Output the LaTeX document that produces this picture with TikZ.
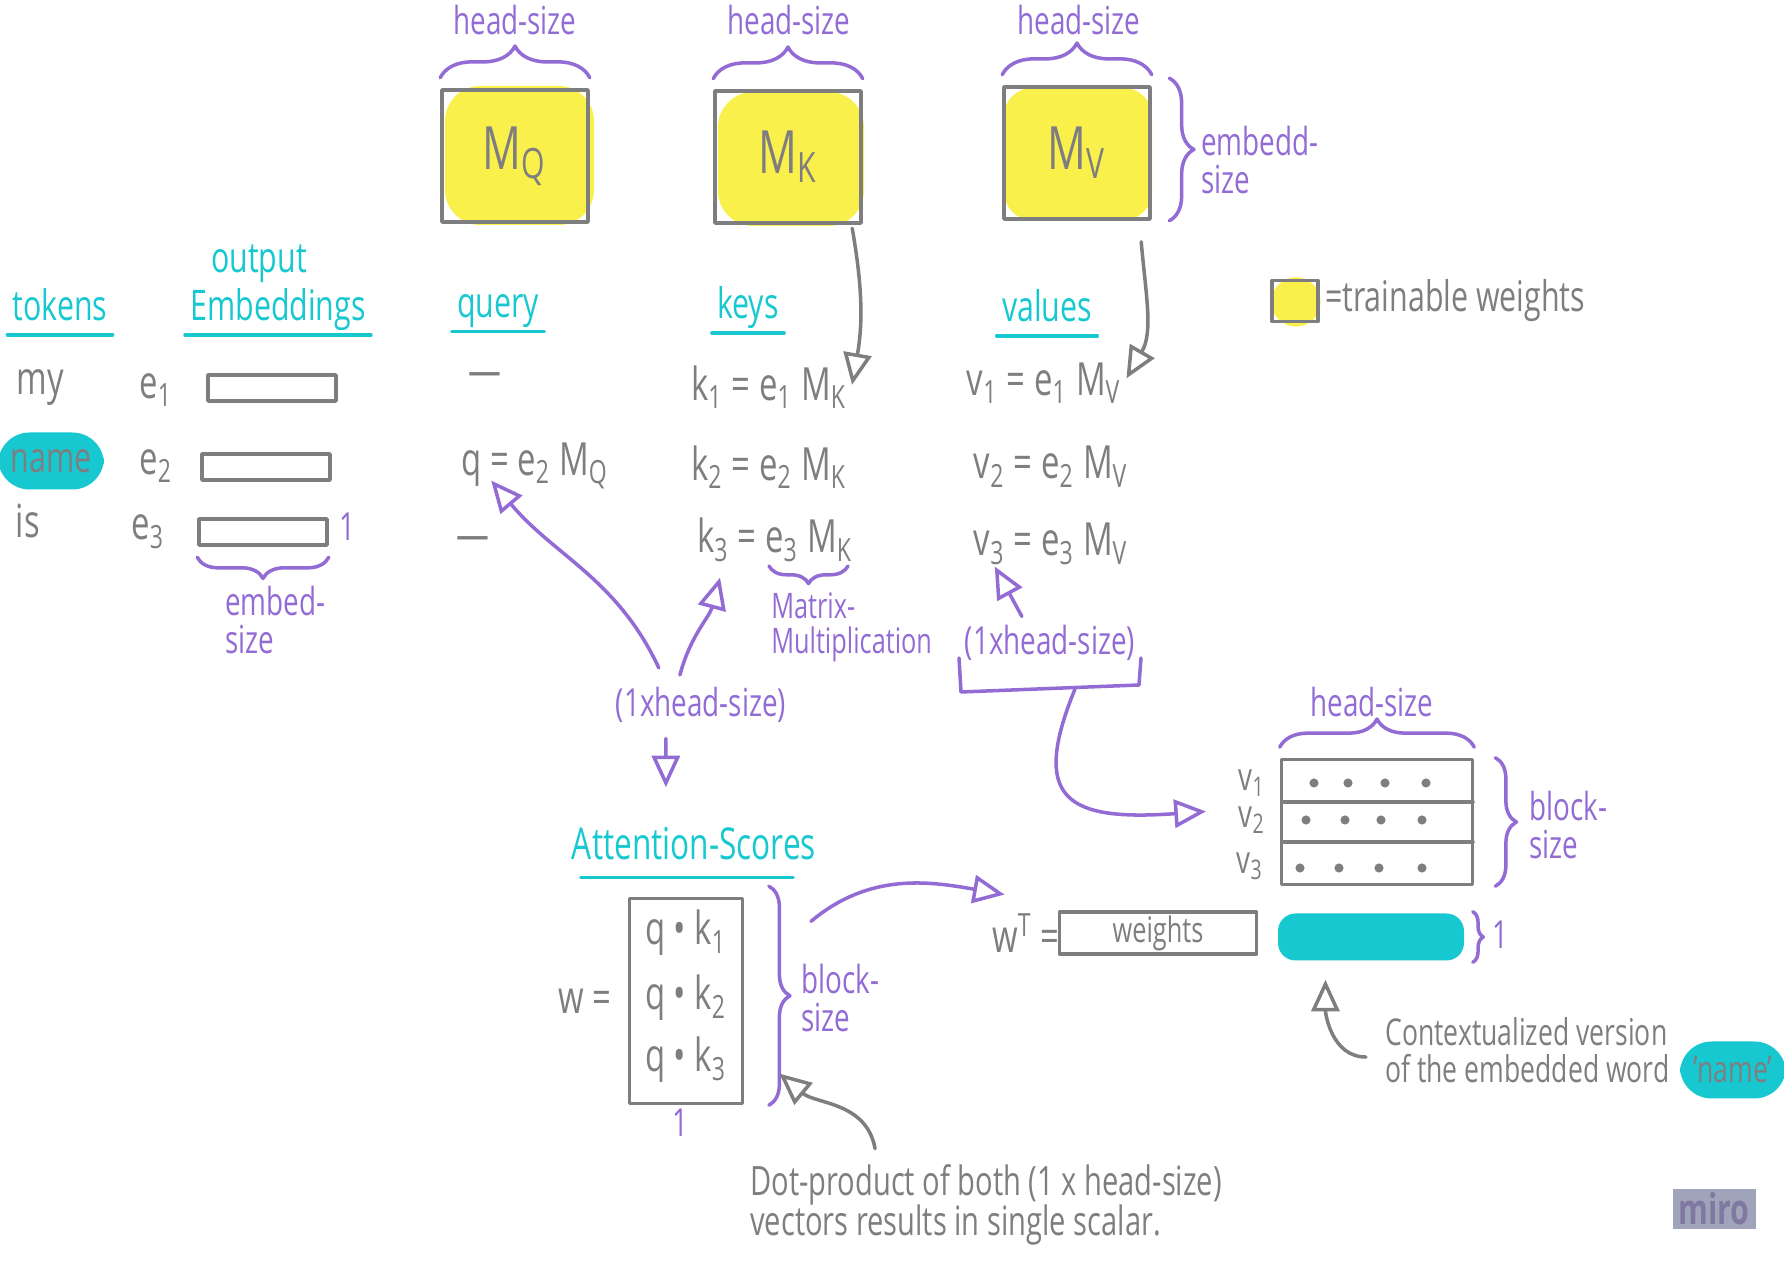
\documentclass[tikz,border=0pt]{standalone}
\usepackage{fontspec}
\setmainfont{Open Sans}[FakeStretch=0.72]
\usetikzlibrary{arrows.meta,decorations.pathreplacing}
\definecolor{inkgray}{RGB}{126,126,128}
\definecolor{inkpurple}{RGB}{146,108,212}
\definecolor{inkcyan}{RGB}{24,200,208}
\definecolor{inkyellow}{RGB}{250,240,76}
\definecolor{mirobg}{RGB}{160,164,186}
\definecolor{mirofg}{RGB}{128,120,160}
\newcommand{\lo}[1]{\textsubscript{#1}}
\newcommand{\fs}[1]{\fontsize{#1}{#1}\selectfont}
\begin{document}
\begin{tikzpicture}[x=0.1mm,y=0.1mm,line width=1pt,line cap=round,line join=round,
        every node/.style={inner sep=1pt},
        gr/.style={text=inkgray,font=\fs{13}},
        pu/.style={text=inkpurple,font=\fs{11},align=left},
        cy/.style={text=inkcyan,font=\fs{12}},
        mat/.style={draw=inkgray,minimum width=1.46cm,minimum height=1.32cm,text=inkgray,font=\fs{17}},
        emb/.style={draw=inkgray,minimum width=1.28cm,minimum height=0.26cm},
        curly/.style={draw=inkpurple,decorate,decoration={brace,amplitude=#1}},
        curly/.default=8pt,
        grarrow/.style={draw=inkgray,-{Triangle[open,length=9pt,width=8pt]}},
        puarrow/.style={draw=inkpurple,-{Triangle[open,length=9pt,width=8pt]}},
        blob/.style={fill=inkcyan,rounded corners=9pt,text=inkgray,minimum width=1.06cm,minimum height=0.57cm,inner sep=0pt}]
    \useasboundingbox (0,0) rectangle (1784,-1261);

    \fill[inkyellow,rounded corners=10pt] (445,-86) rectangle (594,-225);
    \fill[inkyellow,rounded corners=10pt] (718,-92) rectangle (864,-226);
    \fill[inkyellow,rounded corners=8pt] (1004,-88) rectangle (1152,-220);
    \node[mat] (MQ) at (515,-156) {M\lo{Q}};
    \node[mat] (MK) at (788,-157) {M\lo{K}};
    \node[mat] (MV) at (1077,-153) {M\lo{V}};
    \node[pu] (hsQ) at (515,-20) {head-size};
    \node[pu] (hsK) at (789,-20) {head-size};
    \node[pu] (hsV) at (1079,-20) {head-size};
    \draw[curly=9pt] ([yshift=3pt]MQ.north west) -- ([yshift=3pt]MQ.north east);
    \draw[curly=9pt] ([yshift=3pt]MK.north west) -- ([yshift=3pt]MK.north east);
    \draw[curly=9pt] ([yshift=3pt]MV.north west) -- ([yshift=3pt]MV.north east);
    \draw[curly=7pt] ([xshift=5pt,yshift=2pt]MV.north east) -- ([xshift=5pt]MV.south east);
    \node[pu,anchor=west] (edV) at (1196,-160) {embedd-\\size};

    \fill[inkyellow] (1296,-302) circle (7pt);
    \node[draw=inkgray,minimum width=0.46cm,minimum height=0.41cm] (legbox) at (1295,-301) {};
    \node[gr,anchor=west,font=\fs{12}] (legtxt) at (legbox.east) {=trainable weights};

    \node[cy] (tok) at (60,-305) {tokens};
    \node[cy] (outp) at (259,-264) {output};
    \node[cy] (embs) at (278,-310) {Embeddings};
    \node[cy] (qry) at (498,-311) {query};
    \node[cy] (kys) at (748,-308) {keys};
    \node[cy] (vls) at (1047,-306) {values};
    \foreach \n in {tok,embs,qry,kys,vls}
        \draw[inkcyan] ([yshift=-4pt]\n.base west) -- ([yshift=-4pt]\n.base east);

    \node[gr] (my) at (40,-388) {my};
    \node[blob,font=\fs{12}] (name) at (51,-461) {name};
    \node[gr] (is) at (28,-521) {is};
    \node[gr] (e1) at (156,-390) {e\lo{1}};
    \node[gr] (e2) at (156,-466) {e\lo{2}};
    \node[gr] (e3) at (148,-532) {e\lo{3}};
    \node[emb] (emb1) at (272,-388) {};
    \node[emb] (emb2) at (266,-467) {};
    \node[emb] (emb3) at (263,-532) {};
    \node[pu] (one1) at (347,-527) {1};
    \draw[curly=6pt] ([yshift=-3pt]emb3.south east) -- ([yshift=-3pt]emb3.south west);
    \node[pu,anchor=west] (es) at (220,-620) {embed-\\size};

    \node[gr] (qd1) at (485,-380) {—};
    \node[gr] (q) at (535,-466) {q = e\lo{2} M\lo{Q}};
    \node[gr] (qd3) at (473,-544) {—};
    \node[gr] (k1) at (769,-387) {k\lo{1} = e\lo{1} M\lo{K}};
    \node[gr] (k2) at (769,-467) {k\lo{2} = e\lo{2} M\lo{K}};
    \node[gr] (k3) at (775,-540) {k\lo{3} = e\lo{3} M\lo{K}};
    \draw[curly=5pt] (848,-566) -- (769,-566);
    \node[pu,anchor=west,font=\fs{10}] (mm) at (766,-627) {Matrix-\\Multiplication};
    \node[gr] (v1) at (1044,-383) {v\lo{1} = e\lo{1} M\lo{V}};
    \node[gr] (v2) at (1051,-467) {v\lo{2} = e\lo{2} M\lo{V}};
    \node[gr] (v3) at (1051,-544) {v\lo{3} = e\lo{3} M\lo{V}};

    \draw[grarrow] ([xshift=-3pt,yshift=-1pt]MK.south east) to[out=-80,in=80] ([yshift=-7pt]k1.north east);
    \draw[grarrow] ([xshift=-3pt,yshift=-6pt]MV.south east) to[out=-85,in=60] ([yshift=-6pt]v1.north east);

    \node[pu] (hq) at (701,-705) {(1xhead-size)};
    \node[pu] (hv) at (1050,-643) {(1xhead-size)};
    \node[cy,font=\fs{12.5}] (att) at (694,-844) {Attention-Scores};
    \draw[inkcyan] ([xshift=4pt,yshift=-5pt]att.base west) -- ([xshift=-8pt,yshift=-5pt]att.base east);
    \draw[puarrow] ([xshift=-12pt,yshift=4pt]hq.north) to[out=115,in=-50] ([xshift=10pt,yshift=4pt]q.south west);
    \draw[puarrow] ([xshift=-6pt,yshift=2pt]hq.north) to[out=75,in=-105] ([xshift=8pt,yshift=-3pt]k3.south west);
    \draw[puarrow] ([xshift=-10pt,yshift=-3pt]hq.south) -- ([xshift=-8pt,yshift=10pt]att.north);
    \draw[puarrow] ([xshift=-8pt,yshift=1pt]hv.north) -- ([xshift=-16pt,yshift=1pt]v3.south);
    \draw[inkpurple] (959,-658) -- (961,-692) -- (1139,-685) -- (1141,-658);
    \coordinate (brk) at (1075,-689);

    \node[draw=inkgray,minimum width=1.13cm,minimum height=2.05cm] (wmat) at (686,-1001) {};
    \node[gr] (qk1) at (686,-933) {q • k\lo{1}};
    \node[gr] (qk2) at (686,-998) {q • k\lo{2}};
    \node[gr] (qk3) at (686,-1060) {q • k\lo{3}};
    \node[gr] (w) at (585,-1001) {w =};
    \node[pu] (one2) at (680,-1123) {1};
    \draw[curly=6pt] ([xshift=7pt,yshift=3pt]wmat.north east) -- ([xshift=7pt]wmat.south east);
    \node[pu,anchor=west] (bs1) at (796,-998) {block-\\size};
    \node[gr,anchor=west,align=left,font=\fs{11.5}] (dot) at (745,-1205) {Dot-product of both (1 x head-size)\\vectors results in single scalar.};
    \draw[grarrow] ([xshift=37pt,yshift=3pt]dot.north west) to[out=100,in=-40] ([xshift=10pt,yshift=9pt]wmat.south east);

    \node[gr] (wT) at (1026,-933) {w\textsuperscript{T} =};
    \node[draw=inkgray,minimum width=1.97cm,minimum height=0.38cm,text=inkgray,font=\fs{10}] (wts) at (1158,-933) {weights};
    \node[fill=inkcyan,rounded corners=5pt,minimum width=1.86cm,minimum height=0.47cm] (cbar) at (1371,-937) {};
    \draw[curly=3pt] ([xshift=2pt]cbar.north east) -- ([xshift=2pt]cbar.south east);
    \node[pu] (one3) at (1500,-935) {1};
    \draw[puarrow] ([xshift=19pt,yshift=-7pt]wmat.north east) to[out=40,in=170] ([xshift=5pt,yshift=4pt]wT.north west);

    \node[pu] (hsO) at (1372,-702) {head-size};
    \node[draw=inkgray,minimum width=1.91cm,minimum height=1.25cm] (Vmat) at (1377,-822) {};
    \draw[inkgray] (1282,-802) -- (1473,-802) (1282,-842) -- (1473,-842);
    \foreach \x/\y in {1314/783,1348/783,1385/783,1426/783,1306/820,1345/820,1381/820,1422/820,1300/868,1339/868,1379/868,1422/868}
        \fill[inkgray] (\x,-\y) circle (1.3pt);
    \node[gr,font=\fs{11}] (vv1) at (1252,-783) {v\lo{1}};
    \node[gr,font=\fs{11}] (vv2) at (1252,-820) {v\lo{2}};
    \node[gr,font=\fs{11}] (vv3) at (1250,-866) {v\lo{3}};
    \draw[curly=8pt] ([yshift=3pt]Vmat.north west) -- ([yshift=3pt]Vmat.north east);
    \draw[curly=6pt] ([xshift=6pt]Vmat.north east) -- ([xshift=6pt]Vmat.south east);
    \node[pu,anchor=west] (bs2) at (1524,-825) {block-\\size};
    \draw[puarrow] (brk) .. controls +(-45,-110) and +(-140,-10) .. ([xshift=-21pt,yshift=3pt]Vmat.west);

    \node[gr,anchor=west,align=left,font=\fs{10.5}] (ctx) at (1380,-1050) {Contextualized version\\of the embedded word};
    \node[blob,font=\fs{10.5}] (name2) at (1733,-1070) {'name'};
    \draw[grarrow] ([xshift=-4pt,yshift=-2pt]ctx.west) to[out=180,in=-90] ([xshift=14pt,yshift=-5pt]cbar.south west);

    \node[fill=mirobg,text=mirofg,font=\fs{12}\bfseries,minimum width=0.83cm,minimum height=0.4cm,inner sep=0pt] (miro) at (1714,-1209) {miro};
\end{tikzpicture}
\end{document}
